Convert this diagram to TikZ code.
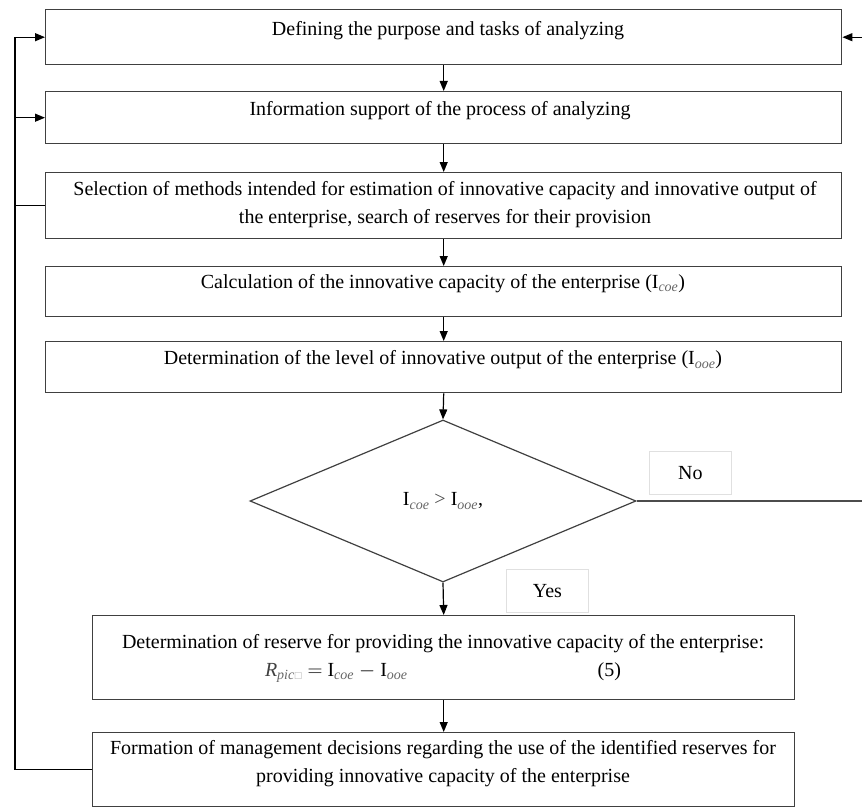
\documentclass[tikz,border=0pt]{standalone}
\usepackage{amsmath,amssymb}
\usepackage{fontspec}
\setmainfont{Liberation Serif}
\usetikzlibrary{arrows.meta,shapes.geometric}
\newcommand\isub[1]{$_{\textcolor{black!60}{\textit{#1}}}$}
\begin{document}
\begin{tikzpicture}[x=1pt,y=-1pt,
  box/.style={draw=black!75, line width=1.4pt, inner sep=0pt, anchor=north west},
  lbl/.style={inner sep=0pt, align=center, font=\fontsize{20}{28}\selectfont},
  tagbox/.style={draw=black!12, line width=0.8pt, inner sep=0pt, anchor=north west,
     font=\fontsize{20}{24}\selectfont},
  arr/.style={draw=black, line width=1.2pt, -{Triangle[length=10pt,width=8pt]}},
  plain/.style={draw=black!70, line width=1.7pt},
  dec/.style={draw=black!75, line width=1.2pt, shape=diamond, inner sep=0pt,
     minimum width=386pt, minimum height=162pt, font=\fontsize{20}{24}\selectfont}]
\useasboundingbox (0,0) rectangle (862,808);
\coordinate (fb) at (15,0);
\coordinate (re) at (862,0);

% boxes
\node[box, minimum width=796pt, minimum height=55pt] (b1) at (45,9) {};
\node[box, minimum width=796pt, minimum height=52pt] (b2) at (45,91) {};
\node[box, minimum width=796pt, minimum height=66pt] (b3) at (45,172) {};
\node[box, minimum width=796pt, minimum height=50pt] (b4) at (45,266) {};
\node[box, minimum width=796pt, minimum height=51pt] (b5) at (45,341) {};
\node[dec] (d) at (443,501) {I\isub{coe} \textcolor{black!70}{>} I\isub{ooe},};
\node[box, minimum width=702pt, minimum height=84pt] (b6) at (92,615) {};
\node[box, minimum width=702pt, minimum height=74pt] (b7) at (92,732) {};
\node[tagbox, minimum width=82pt, minimum height=43pt] (no) at (649,451) {No};
\node[tagbox, minimum width=82pt, minimum height=43pt] (yes) at (506,569) {Yes};

% texts
\node[lbl] (t1) at (448,31) {Defining the purpose and tasks of analyzing};
\node[lbl] (t2) at (440,111) {Information support of the process of analyzing};
\node[lbl] (t3) at (445,205) {Selection of methods intended for estimation of innovative capacity and innovative output of\\ the enterprise, search of reserves for their provision};
\node[lbl] (t4) at (443,284) {Calculation of the innovative capacity of the enterprise (I\isub{coe})};
\node[lbl] (t5) at (443,360) {Determination of the level of innovative output of the enterprise (I\isub{ooe})};
\node[lbl] (t6) at (443,658) {Determination of reserve for providing the innovative capacity of the enterprise:\\
  \textcolor{black!75}{\textit{R}}$_{\textcolor{black!60}{\textit{pic}}\textcolor{black!35}{\scriptscriptstyle\square}}$ $=$ I\isub{coe} $-$ I\isub{ooe}\hspace{190pt}(5)};
\node[lbl] (t7) at (443,764) {Formation of management decisions regarding the use of the identified reserves for\\ providing innovative capacity of the enterprise};

% connectors
\draw[arr] (b1.south) -- (b2.north);
\draw[arr] (b2.south) -- (b3.north);
\draw[arr] (b3.south) -- (b4.north);
\draw[arr] (b4.south) -- (b5.north);
\draw[arr] (b5.south) -- (d.north);
\draw[arr] (d.south) -- (b6.north);
\draw[arr] (b6.south) -- (b7.north);
\draw[arr] (b3.west) -- (b3.west -| fb) |- (b2.west);
\draw[arr] (b7.west) -- (b7.west -| fb) |- (b1.west);
\draw[arr] (re |- b1.east) -- (b1.east);
\draw[plain] (d.east) -- (d.east -| re);
\end{tikzpicture}
\end{document}
